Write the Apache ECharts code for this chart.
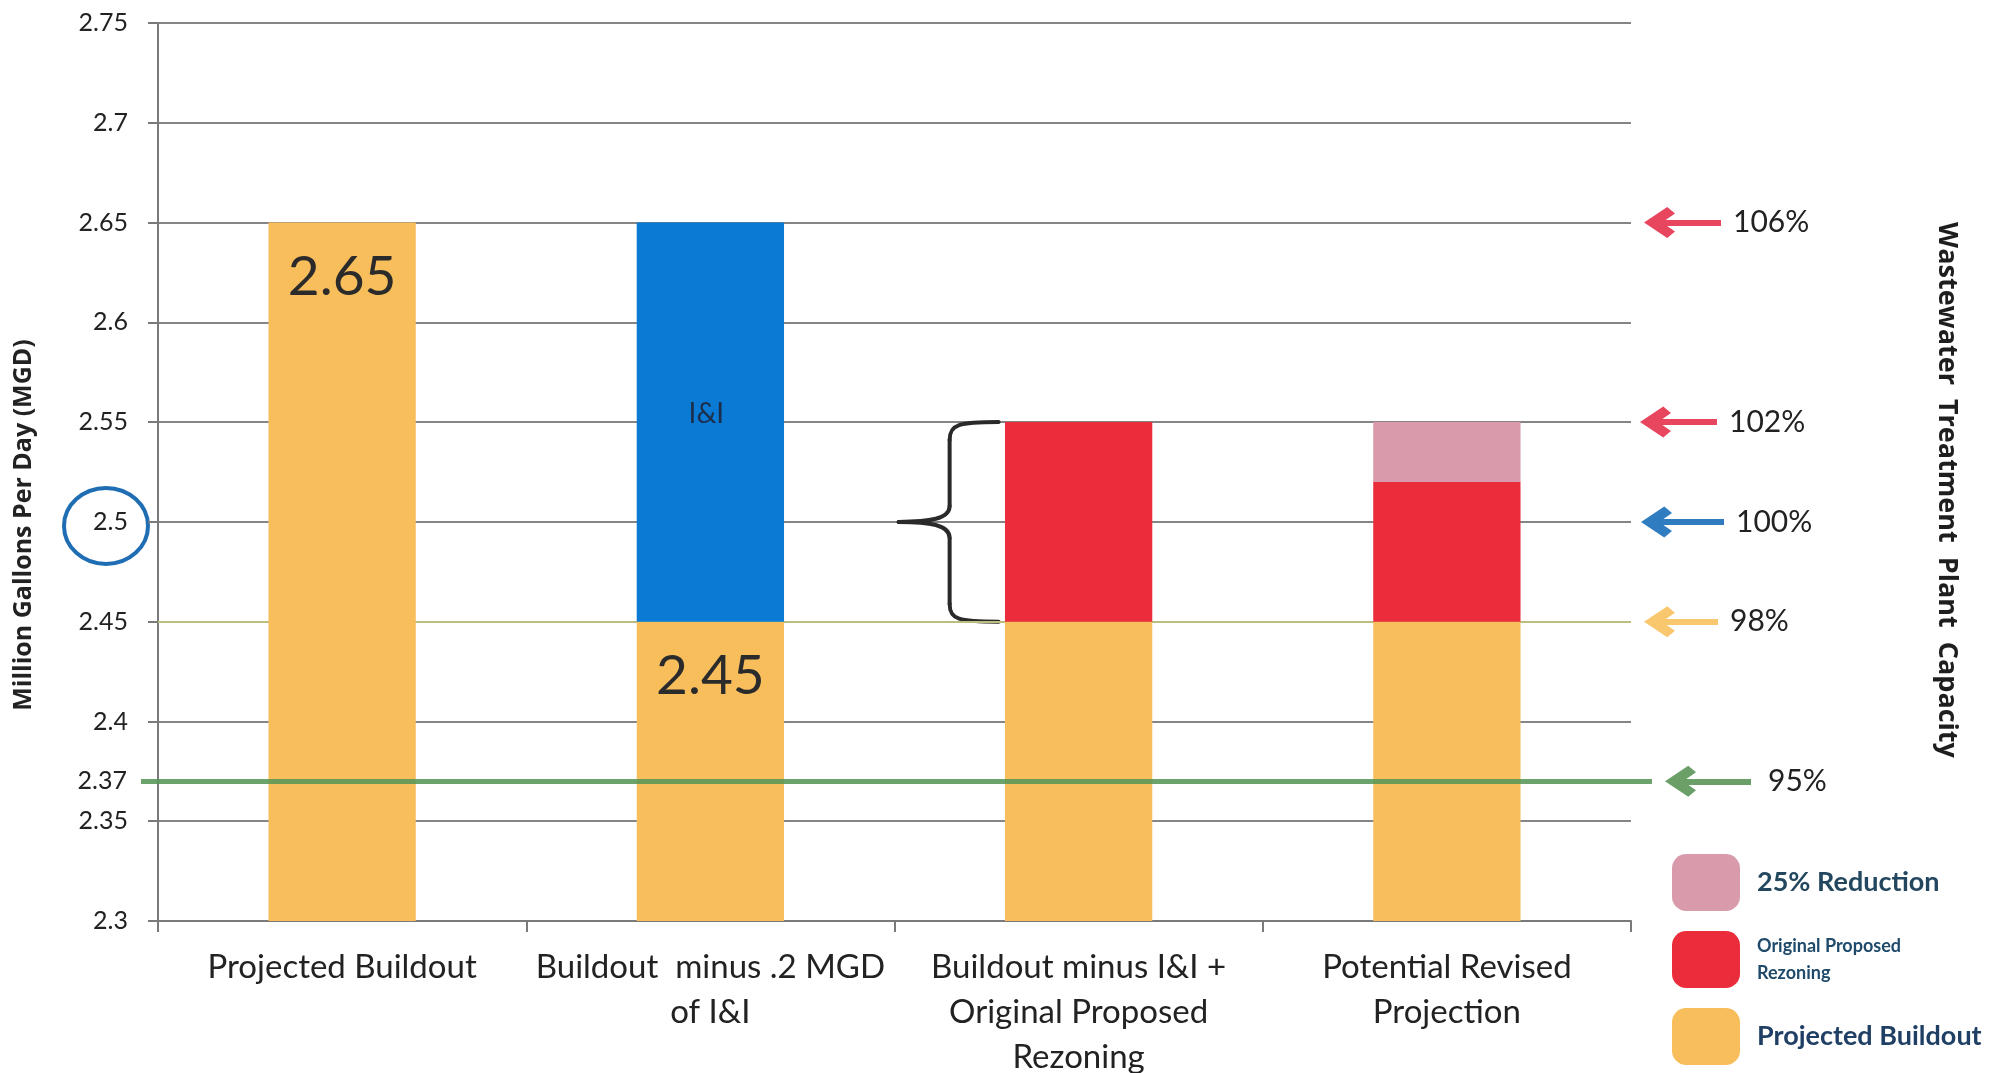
<!DOCTYPE html>
<html>
<head>
<meta charset="utf-8">
<script src="https://cdn.jsdelivr.net/npm/echarts@6/dist/echarts.min.js"></script>
<style>
  html, body { margin: 0; padding: 0; background: #ffffff; }
  #chart { width: 2002px; height: 1073px; }
</style>
</head>
<body>
<div id="chart"></div>
<script>
// ---- data ----
const categories = [
  'Projected Buildout',
  'Buildout  minus .2 MGD\nof I&I',
  'Buildout minus I&I +\nOriginal Proposed\nRezoning',
  'Potential Revised\nProjection'
];
const buildout = [2.65, 2.45, 2.45, 2.45];        // Projected Buildout (MGD)
const infiltration = [null, 0.2, null, null];      // I&I
const rezoning = [null, null, 0.1, 0.07];          // Original Proposed Rezoning
const reduction = [null, null, null, 0.03];        // 25% Reduction
const labelledBuildout = [true, true, false, false];

const yMin = 2.3, yMax = 2.75, yStep = 0.05;       // value axis ticks
const plantCapacity = 2.5;                          // 100% of plant capacity
const capacityLevels = [2.65, 2.55, 2.5, 2.45, 2.37];
const capacityLabels = ['106%', '102%', '100%', '98%', '95%'];
const threshold95 = 2.37;

// ---- styling ----
const FONT = 'Lato';
const TITLE_FONT = 'Open Sans';
const COLORS = {
  buildout: '#F8BE5C',
  infiltration: '#0A7AD4',
  rezoning: '#EA2C3B',
  reduction: '#D99BAB'
};
const arrowColors = ['#E8455E', '#E8455E', '#2F7CC1', '#F9C86E', '#6A9F68'];
const arrowTailX = [1721, 1717, 1724, 1718, 1751];
const arrowTipX = [1644, 1640, 1641, 1644, 1665];
const ARROW_HEAD = 'path://M5,0L10,7.2L7.9,9.6L5,5.6L2.1,9.6L0,7.2Z';
const HEAD_SIZE = 31;

const chart = echarts.init(document.getElementById('chart'));

const arrowLines = capacityLevels.map((lvl, i) => [
  {
    x: arrowTailX[i], yAxis: lvl,
    symbol: 'none',
    lineStyle: { color: arrowColors[i], width: 6, type: 'solid' },
    label: { formatter: capacityLabels[i], distance: i === 4 ? 17 : 12 }
  },
  { x: arrowTipX[i] + HEAD_SIZE / 2, yAxis: lvl, symbol: ARROW_HEAD, symbolSize: [HEAD_SIZE, HEAD_SIZE] }
]);

const option = {
  animation: false,
  backgroundColor: '#ffffff',
  grid: { left: 158, right: 371, top: 23, bottom: 152, containLabel: false, outerBoundsMode: 'none' },
  legend: {
    orient: 'vertical',
    left: 1667,
    top: 849,
    itemWidth: 68,
    itemHeight: 57,
    itemGap: 20,
    icon: 'roundRect',
    selectedMode: false,
    formatter: name => name === 'Original Proposed Rezoning' ? 'Original Proposed\nRezoning' : name,
    textStyle: { fontFamily: FONT, fontWeight: 'bold', fontSize: 27, color: '#23475E', padding: [0, 0, 0, 12] },
    data: [
      { name: '25% Reduction' },
      { name: 'Original Proposed Rezoning', textStyle: { fontSize: 18, lineHeight: 27, color: '#1F4A6A' } },
      { name: 'Projected Buildout', textStyle: { color: '#1F3F64' } }
    ]
  },
  xAxis: {
    type: 'category',
    data: categories,
    axisLine: { show: true, lineStyle: { color: '#7A7A7A', width: 2 } },
    axisTick: { show: true, length: 11, lineStyle: { color: '#7A7A7A', width: 2 } },
    axisLabel: { interval: 0, fontFamily: FONT, fontSize: 33, color: '#222', lineHeight: 45, margin: 24 },
    splitLine: { show: false }
  },
  yAxis: {
    type: 'value',
    min: yMin,
    max: yMax,
    interval: yStep,
    axisLine: { show: true, lineStyle: { color: '#7A7A7A', width: 2 } },
    axisTick: { show: true, length: 10, lineStyle: { color: '#7A7A7A', width: 2 } },
    axisLabel: {
      fontFamily: FONT, fontSize: 25, color: '#222', margin: 30,
      formatter: v => String(+v.toFixed(2))
    },
    splitLine: { show: true, lineStyle: { color: '#858585', width: 2 } }
  },
  series: [
    {
      name: 'Projected Buildout',
      type: 'bar',
      stack: 'flow',
      barWidth: '40%',
      itemStyle: { color: COLORS.buildout },
      data: buildout.map((v, i) => ({ value: v, label: { show: labelledBuildout[i] } })),
      label: {
        position: 'insideTop', distance: 27,
        fontFamily: FONT, fontSize: 55, color: '#2B2B2B',
        formatter: p => String(p.value)
      },
      markLine: {
        silent: true,
        z: 1,
        symbol: ['none', 'none'],
        label: { show: false },
        lineStyle: { color: '#BDBE7E', width: 2, type: 'solid' },
        data: [{ yAxis: capacityLevels[3] }]
      }
    },
    {
      name: 'I&I',
      type: 'bar',
      stack: 'flow',
      barWidth: '40%',
      itemStyle: { color: COLORS.infiltration },
      data: infiltration,
      label: {
        show: true, position: 'inside', offset: [-4, -8], formatter: '{a}',
        fontFamily: FONT, fontSize: 28, color: '#1C2E4A'
      }
    },
    {
      name: 'Original Proposed Rezoning',
      type: 'bar',
      stack: 'flow',
      barWidth: '40%',
      itemStyle: { color: COLORS.rezoning },
      data: rezoning
    },
    {
      name: '25% Reduction',
      type: 'bar',
      stack: 'flow',
      barWidth: '40%',
      itemStyle: { color: COLORS.reduction },
      data: reduction
    },
    {
      name: 'Capacity arrows',
      type: 'line',
      data: [],
      markLine: {
        silent: true,
        symbol: ['none', ARROW_HEAD],
        symbolSize: HEAD_SIZE,
        label: {
          show: true, position: 'start',
          fontFamily: FONT, fontSize: 30, color: '#222'
        },
        data: arrowLines
      }
    },
    {
      name: '95% threshold',
      type: 'line',
      data: [],
      markLine: {
        silent: true,
        symbol: ['none', 'none'],
        lineStyle: { color: 'rgba(88,150,88,0.88)', width: 5, type: 'solid' },
        label: {
          show: true, position: 'start', distance: 14,
          fontFamily: FONT, fontSize: 25, color: '#222',
          formatter: p => String(p.value)
        },
        data: [[
          { x: 141, yAxis: threshold95, value: threshold95 },
          { x: 1652, yAxis: threshold95 }
        ]]
      }
    }
  ]
};

chart.setOption(option);

// ---- annotations placed through the axes ----
const yPx = v => chart.convertToPixel({ yAxisIndex: 0 }, v);
const xPx = c => chart.convertToPixel({ xAxisIndex: 0 }, c);

const braceTop = yPx(buildout[2] + rezoning[2]);
const braceBot = yPx(buildout[2]);
const braceMid = (braceTop + braceBot) / 2;
const cx = xPx(categories[2]);
const bRight = cx - 80, bStem = cx - 129, bTip = cx - 180;
const braceStyle = { stroke: '#2A2A2A', lineWidth: 4, fill: null, lineCap: 'round' };

chart.setOption({
  graphic: [
    {
      type: 'ellipse',
      shape: { cx: 106, cy: yPx(plantCapacity) + 4, rx: 42, ry: 38 },
      style: { stroke: '#1F6DB3', lineWidth: 4, fill: null }
    },
    {
      type: 'bezierCurve',
      shape: { x1: bRight, y1: braceTop, cpx1: bRight - 40, cpy1: braceTop, cpx2: bStem, cpy2: braceTop + 2, x2: bStem, y2: braceTop + 18 },
      style: braceStyle
    },
    {
      type: 'line',
      shape: { x1: bStem, y1: braceTop + 18, x2: bStem, y2: braceMid - 16 },
      style: braceStyle
    },
    {
      type: 'bezierCurve',
      shape: { x1: bStem, y1: braceMid - 16, cpx1: bStem, cpy1: braceMid - 3, cpx2: bStem - 20, cpy2: braceMid, x2: bTip, y2: braceMid },
      style: braceStyle
    },
    {
      type: 'bezierCurve',
      shape: { x1: bTip, y1: braceMid, cpx1: bStem - 20, cpy1: braceMid, cpx2: bStem, cpy2: braceMid + 3, x2: bStem, y2: braceMid + 16 },
      style: braceStyle
    },
    {
      type: 'line',
      shape: { x1: bStem, y1: braceMid + 16, x2: bStem, y2: braceBot - 18 },
      style: braceStyle
    },
    {
      type: 'bezierCurve',
      shape: { x1: bStem, y1: braceBot - 18, cpx1: bStem, cpy1: braceBot - 2, cpx2: bRight - 40, cpy2: braceBot, x2: bRight, y2: braceBot },
      style: braceStyle
    },
    {
      type: 'text',
      x: 24, y: 525,
      rotation: Math.PI / 2,
      style: {
        text: 'Million Gallons Per Day (MGD)',
        fontFamily: TITLE_FONT, fontWeight: 'bold', fontSize: 25, fill: '#222',
        align: 'center', verticalAlign: 'middle'
      }
    },
    {
      type: 'text',
      x: 1947, y: 490,
      rotation: -Math.PI / 2,
      style: {
        text: 'Wastewater  Treatment  Plant  Capacity',
        fontFamily: TITLE_FONT, fontWeight: 'bold', fontSize: 27, fill: '#1E1E1E',
        align: 'center', verticalAlign: 'middle'
      }
    }
  ]
});
</script>
</body>
</html>
